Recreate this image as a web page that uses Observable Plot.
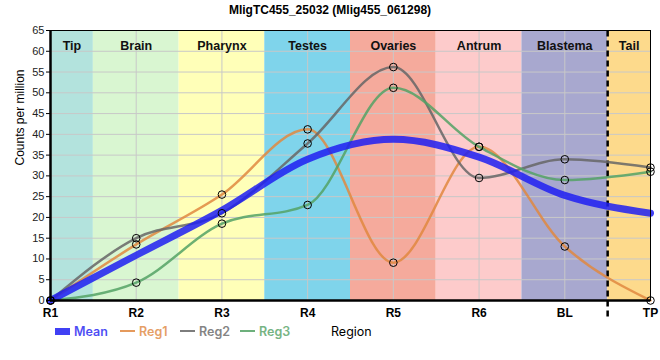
<!DOCTYPE html>
<html>
<head>
<meta charset="utf-8">
<script src="https://cdn.jsdelivr.net/npm/d3@7"></script>
<script src="https://cdn.jsdelivr.net/npm/@observablehq/plot@0.6"></script>
<style>
  body { margin: 0; background: #fff; font-family: "Liberation Sans", Arial, sans-serif; }
  #wrap { position: relative; width: 660px; height: 360px; }
  #title { height: 20px; line-height: 20px; text-align: center; font-weight: bold; font-size: 12px; color: #000; }
  #legend { position: absolute; top: 321px; left: 0; width: 660px; height: 20px; font-family: Inter, "Noto Sans", sans-serif; font-size: 12.5px; font-weight: 600; }
  .item { position: absolute; top: 0; display: flex; align-items: center; height: 20px; }
  .sw { display: inline-block; width: 15px; margin-right: 4px; }
  #xlabel { position: absolute; top: 324px; left: 331px; font-family: Inter, "Noto Sans", sans-serif; font-size: 12.5px; color: #000; }
</style>
</head>
<body>
<div id="wrap">
  <div id="title"></div>
  <div id="chart"></div>
  <div id="legend"></div>
  <div id="xlabel">Region</div>
</div>
<script>
const title = "MligTC455_25032 (Mlig455_061298)";
const regions = ["R1", "R2", "R3", "R4", "R5", "R6", "BL", "TP"];
const mean = [0, 10.9, 21.7, 34.0, 38.8, 34.5, 25.3, 21.0];
const reg1 = [0, 13.5, 25.5, 41.2, 9.1, 37.0, 13.0, 0];
const reg2 = [0, 15.0, 21.0, 37.8, 56.2, 29.5, 34.0, 32.0];
const reg3 = [0, 4.3, 18.5, 23.0, 51.2, 37.0, 29.0, 31.0];
const tissues = ["Tip", "Brain", "Pharynx", "Testes", "Ovaries", "Antrum", "Blastema", "Tail"];
const tissueStart = [0, 0.5, 1.5, 2.5, 3.5, 4.5, 5.5, 6.5];
const tissueEnd = [0.5, 1.5, 2.5, 3.5, 4.5, 5.5, 6.5, 7];
const tissueColors = ["#b3e3dd", "#d9f6d1", "#ffffb8", "#7fd4eb", "#f5aa9c", "#fdcbcb", "#a8a8cf", "#fdda8c"];
const cutAt = [6.5];
const yTicks = d3.range(0, 66, 5);

const seriesNames = ["Reg1", "Reg2", "Reg3"];
const seriesValues = [reg1, reg2, reg3];
const seriesColors = ["#e0883f", "#666666", "#54a265"];
const meanColor = "#1f1ff2";

document.getElementById("title").textContent = title;

const bands = tissues.map((t, i) => ({t, x1: tissueStart[i], x2: tissueEnd[i], c: tissueColors[i]}));
const lines = seriesNames.flatMap((s, k) => regions.map((r, i) => ({s, i, v: seriesValues[k][i]})));
const meanData = regions.map((r, i) => ({i, v: mean[i]}));

const chart = Plot.plot({
  width: 660,
  height: 310,
  marginLeft: 50,
  marginRight: 10,
  marginTop: 10,
  marginBottom: 30,
  style: {fontFamily: "'Liberation Sans', Arial, sans-serif", fontSize: "11px", background: "transparent"},
  x: {domain: [0, 7], label: null},
  y: {domain: [0, 65], label: null},
  color: {domain: seriesNames, range: seriesColors},
  marks: [
    Plot.rectY(bands, {x1: "x1", x2: "x2", y1: 0, y2: 65, fill: "c"}),
    Plot.gridY(yTicks, {stroke: "#c8c8c8", strokeOpacity: 1, strokeWidth: 1}),
    Plot.gridX(d3.range(regions.length), {stroke: "#c8c8c8", strokeOpacity: 1, strokeWidth: 1}),
    Plot.text(bands, {x: d => (d.x1 + d.x2) / 2, text: "t", frameAnchor: "top", dy: 11, fontWeight: "bold", fontSize: 12.5, fill: "#111"}),
    Plot.ruleX(cutAt, {stroke: "black", strokeWidth: 2.5, strokeDasharray: "6,4", y1: -4, y2: 65}),
    Plot.lineY(lines, {x: "i", y: "v", stroke: "s", z: "s", strokeWidth: 2.5, strokeOpacity: 0.85, curve: "monotone-x"}),
    Plot.lineY(meanData, {x: "i", y: "v", stroke: meanColor, strokeWidth: 7, strokeOpacity: 0.85, curve: "monotone-x"}),
    Plot.dot(lines, {x: "i", y: "v", r: 3.8, stroke: "black", strokeWidth: 1, fill: "none"}),
    Plot.frame({stroke: "black", strokeWidth: 1}),
    Plot.ruleY([0], {stroke: "black", strokeWidth: 2.5}),
    Plot.ruleX([0], {stroke: "black", strokeWidth: 2.5}),
    Plot.axisY(yTicks, {tickSize: 4, tickPadding: 2, fontSize: 11, fill: "#222", label: null}),
    Plot.axisX(d3.range(regions.length), {tickFormat: i => regions[i], tickSize: 0, tickPadding: 8, fontSize: 12, fontWeight: "bold", fill: "#000", label: null}),
    Plot.text(["Counts per million"], {frameAnchor: "left", rotate: -90, dx: -30, fontSize: 12, fill: "#000"})
  ]
});
document.getElementById("chart").appendChild(chart);

const legend = document.getElementById("legend");
const items = [
  {name: "Mean", color: meanColor, h: 7, left: 55},
  {name: "Reg1", color: seriesColors[0], h: 2.5, left: 120},
  {name: "Reg2", color: seriesColors[1], h: 2.5, left: 180},
  {name: "Reg3", color: seriesColors[2], h: 2.5, left: 240}
];
for (const it of items) {
  const d = document.createElement("div");
  d.className = "item";
  d.style.left = it.left + "px";
  const sw = document.createElement("span");
  sw.className = "sw";
  sw.style.height = it.h + "px";
  sw.style.background = it.color;
  sw.style.opacity = 0.85;
  const t = document.createElement("span");
  t.textContent = it.name;
  t.style.color = it.color;
  t.style.opacity = 0.8;
  d.appendChild(sw);
  d.appendChild(t);
  legend.appendChild(d);
}
</script>
</body>
</html>
